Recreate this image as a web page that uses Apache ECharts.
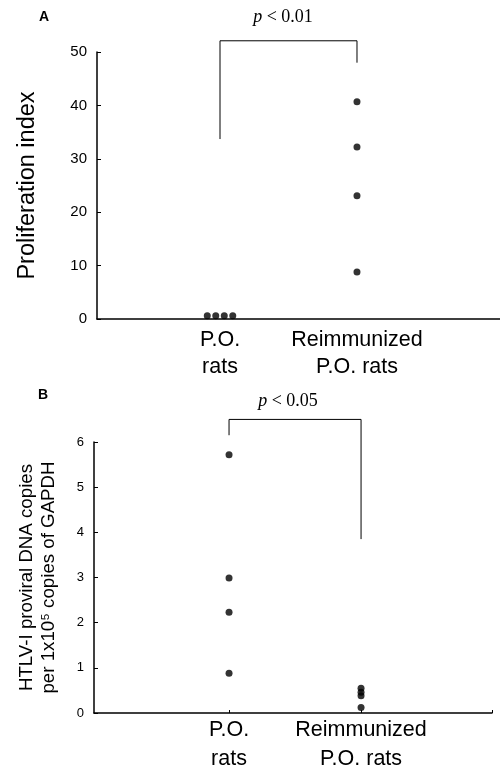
<!DOCTYPE html>
<html>
<head>
<meta charset="utf-8">
<script src="https://cdn.jsdelivr.net/npm/echarts@6/dist/echarts.min.js"></script>
<style>
html, body { margin: 0; background: #fff; }
#main { width: 500px; height: 767px; }
</style>
</head>
<body>
<div id="main"></div>
<script>
// 数据
var groups = ['P.O.\nrats', 'Reimmunized\nP.O. rats'];
var groupPos = [1, 2];
var prolifPO = [0.6, 0.6, 0.6, 0.6];
var prolifReimm = [40.7, 32.2, 23.1, 8.8];
var htlvPO = [5.72, 2.99, 2.23, 0.88];
var htlvReimm = [0.55, 0.46, 0.38, 0.12];
var prolifTicks = [0, 50, 10];   // min, max, interval
var htlvTicks = [0, 6, 1];
// bracket: left end, top, right end
var bracketA = [33.7, 52.1, 48];
var bracketB = [6.15, 6.5, 3.85];

var font = 'Liberation Sans, Arial, sans-serif';

// 值相同的点左右错开
function dots(vals, x, range) {
     return vals.map(function (v, i) {
          var same = [];
          vals.forEach(function (w, j) { if (Math.abs(w - v) < range * 0.01) same.push(j); });
          var k = same.indexOf(i);
          var off = (k - (same.length - 1) / 2) * 8.5;
          return { value: [x, v], symbolOffset: [off, 0] };
     });
}

function bracket(b) {
     return [[groupPos[0], b[0]], [groupPos[0], b[1]], [groupPos[1], b[1]], [groupPos[1], b[2]]];
}

function xAxisOf(idx, min, max, ticks, margin, lh) {
     return {
          type: 'value', gridIndex: idx, min: min, max: max,
          splitLine: { show: false },
          axisLine: { onZero: false, lineStyle: { color: '#000', width: 1.5 } },
          axisTick: ticks ? { show: true, inside: true, length: 3, customValues: ticks, lineStyle: { color: '#000' } } : { show: false },
          axisLabel: {
               customValues: groupPos, color: '#000', fontSize: 21.5, lineHeight: lh,
               fontFamily: font, margin: margin,
               formatter: function (v) { return groups[groupPos.indexOf(v)]; }
          }
     };
}

function yAxisOf(idx, t, name, nameGap, nameStyle, labelSize) {
     return {
          type: 'value', gridIndex: idx, min: t[0], max: t[1], interval: t[2],
          splitLine: { show: false },
          axisLine: { show: true, onZero: false, lineStyle: { color: '#000', width: 1.5 } },
          axisTick: { show: true, inside: true, length: 4, lineStyle: { color: '#000' } },
          axisLabel: { color: '#000', fontSize: labelSize, fontFamily: font, margin: 10 },
          name: name, nameLocation: 'middle', nameGap: nameGap,
          nameTextStyle: nameStyle
     };
}

var dotStyle = { type: 'scatter', symbolSize: 7, itemStyle: { color: '#000' }, silent: true };
var lineStyle = { type: 'line', symbol: 'none', clip: false, lineStyle: { color: '#000', width: 1 }, silent: true };

var myChart = echarts.init(document.getElementById('main'));
var option = {
     animation: false,
     backgroundColor: '#fff',
     grid: [
          { left: 97, top: 52, width: 403, height: 267, outerBoundsMode: 'none', containLabel: false },
          { left: 94, top: 442, width: 398, height: 271, outerBoundsMode: 'none', containLabel: false }
     ],
     xAxis: [
          xAxisOf(0, 0.102, 3.044, null, 8, 27),
          xAxisOf(1, -0.023, 2.992, [1, 2, 2.992], 3, 28.5)
     ],
     yAxis: [
          yAxisOf(0, prolifTicks, 'Proliferation index', 57,
               { color: '#000', fontSize: 23.5, fontFamily: font }, 15),
          yAxisOf(1, htlvTicks, 'HTLV-I proviral DNA copies\nper 1x10\u2075 copies of GAPDH', 34,
               { color: '#000', fontSize: 18.7, lineHeight: 22, fontFamily: font }, 13)
     ],
     graphic: [
          { type: 'text', x: 44, y: 17, style: { text: 'A', font: 'bold 14px ' + font, fill: '#000', align: 'center', verticalAlign: 'middle' } },
          { type: 'text', x: 43, y: 395, style: { text: 'B', font: 'bold 14px ' + font, fill: '#000', align: 'center', verticalAlign: 'middle' } },
          { type: 'text', x: 283, y: 17, style: { text: '{i|p} < 0.01', fill: '#000', align: 'center', verticalAlign: 'middle',
               font: '18px Liberation Serif, Times New Roman, serif',
               rich: { i: { fontStyle: 'italic', fontSize: 18, fontFamily: 'Liberation Serif' } } } },
          { type: 'text', x: 288, y: 401, style: { text: '{i|p} < 0.05', fill: '#000', align: 'center', verticalAlign: 'middle',
               font: '18px Liberation Serif, Times New Roman, serif',
               rich: { i: { fontStyle: 'italic', fontSize: 18, fontFamily: 'Liberation Serif' } } } }
     ],
     series: [
          Object.assign({ xAxisIndex: 0, yAxisIndex: 0, data: dots(prolifPO, groupPos[0], 50) }, dotStyle),
          Object.assign({ xAxisIndex: 0, yAxisIndex: 0, data: dots(prolifReimm, groupPos[1], 50) }, dotStyle),
          Object.assign({ xAxisIndex: 0, yAxisIndex: 0, data: bracket(bracketA) }, lineStyle),
          Object.assign({ xAxisIndex: 1, yAxisIndex: 1, data: dots(htlvPO, groupPos[0], 6) }, dotStyle),
          Object.assign({ xAxisIndex: 1, yAxisIndex: 1, data: dots(htlvReimm, groupPos[1], 6) }, dotStyle),
          Object.assign({ xAxisIndex: 1, yAxisIndex: 1, data: bracket(bracketB) }, lineStyle)
     ]
};
myChart.setOption(option);
</script>
</body>
</html>
